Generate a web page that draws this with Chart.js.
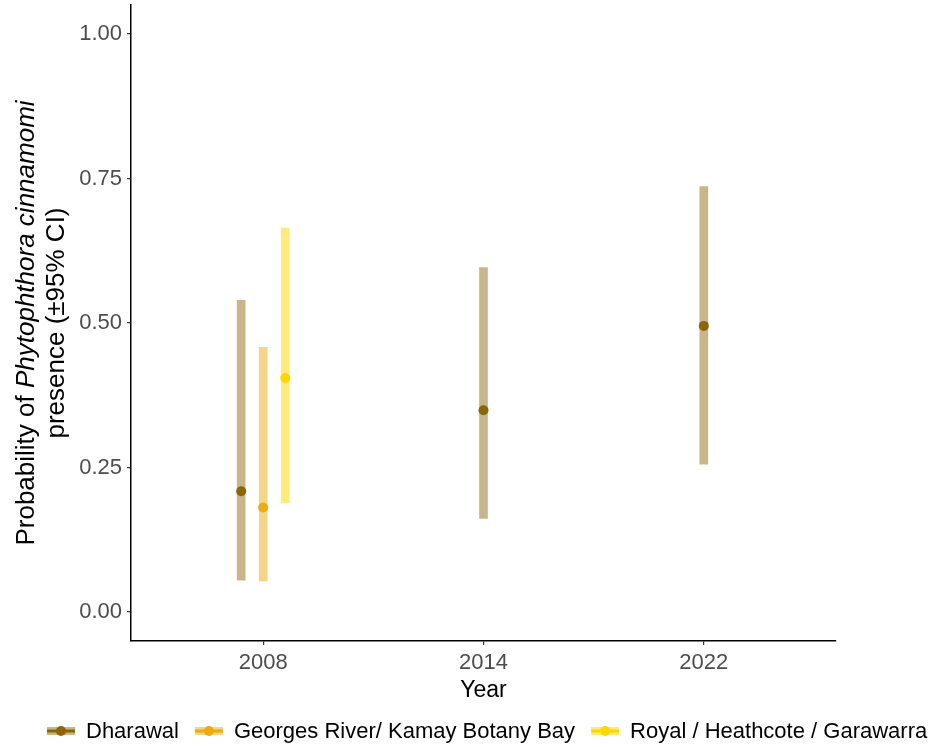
<!DOCTYPE html>
<html>
<head>
<meta charset="utf-8">
<script src="https://cdn.jsdelivr.net/npm/chart.js@4.4.1/dist/chart.umd.min.js"></script>
<style>
  html, body { margin: 0; padding: 0; background: #ffffff; }
  #wrap { width: 938px; height: 747px; position: relative; }
</style>
</head>
<body>
<div id="wrap"><canvas id="c" width="938" height="747"></canvas></div>
<script>
// ---- Data ----
const yearLabels = ['2008', '2014', '2022'];
const groupNames = ['Dharawal', 'Georges River/ Kamay Botany Bay', 'Royal / Heathcote / Garawarra'];
const groupColors = ['#8B6508', '#EEAA11', '#FFD700'];
const groupBarColors = ['rgba(139,101,8,0.48)', 'rgba(238,170,17,0.5)', 'rgba(255,215,0,0.52)'];

const dharawalYears = ['2008', '2014', '2022'];
const dharawalMean = [0.209, 0.349, 0.495];
const dharawalLow = [0.055, 0.162, 0.256];
const dharawalHigh = [0.539, 0.596, 0.736];

const georgesYears = ['2008'];
const georgesMean = [0.181];
const georgesLow = [0.054];
const georgesHigh = [0.458];

const royalYears = ['2008'];
const royalMean = [0.405];
const royalLow = [0.189];
const royalHigh = [0.664];

const yTicks = [0, 0.25, 0.5, 0.75, 1.0];
const yTitleLine1 = ['Probability of ', 'Phytophthora cinnamomi'];
const yTitleLine2 = 'presence (\u00B195% CI)';
const xTitle = 'Year';

// ---- Build (dodge like ggplot position_dodge(width = 0.3)) ----
const series = [
  { years: dharawalYears, mean: dharawalMean, lo: dharawalLow, hi: dharawalHigh },
  { years: georgesYears, mean: georgesMean, lo: georgesLow, hi: georgesHigh },
  { years: royalYears, mean: royalMean, lo: royalLow, hi: royalHigh }
];
const dodgeWidth = 0.3;
function dodgedX(gi, year) {
  const present = series.map((s, i) => s.years.includes(year) ? i : -1).filter(i => i >= 0);
  const n = present.length;
  const k = present.indexOf(gi);
  return yearLabels.indexOf(year) + (k - (n - 1) / 2) * dodgeWidth / n;
}

const datasets = [];
series.forEach((s, gi) => {
  datasets.push({
    type: 'bar',
    label: groupNames[gi] + ' CI',
    data: s.years.map((y, i) => ({ x: dodgedX(gi, y), y: [s.lo[i], s.hi[i]] })),
    backgroundColor: groupBarColors[gi],
    borderWidth: 0,
    borderSkipped: false,
    barThickness: 8,
    grouped: false,
    order: 2
  });
});
series.forEach((s, gi) => {
  datasets.push({
    type: 'scatter',
    label: groupNames[gi],
    data: s.years.map((y, i) => ({ x: dodgedX(gi, y), y: s.mean[i] })),
    backgroundColor: groupColors[gi],
    borderColor: groupColors[gi],
    pointRadius: 5,
    pointHoverRadius: 5,
    borderWidth: 0,
    order: 1
  });
});

const FONT = '"Liberation Sans", Arial, sans-serif';

const extraText = {
  id: 'extraText',
  afterDraw(chart) {
    const ctx = chart.ctx;
    const area = chart.chartArea;
    ctx.save();
    // Y title (two lines, rotated)
    const cy = (area.top + area.bottom) / 2;
    ctx.fillStyle = '#000000';
    ctx.textBaseline = 'middle';
    const fs = 26;
    const f1 = fs + 'px ' + FONT;
    const f2 = 'italic ' + fs + 'px ' + FONT;
    ctx.font = f1; const w1a = ctx.measureText(yTitleLine1[0]).width;
    ctx.font = f2; const w1b = ctx.measureText(yTitleLine1[1]).width;
    ctx.save();
    ctx.translate(27, cy);
    ctx.rotate(-Math.PI / 2);
    ctx.textAlign = 'left';
    let start = -(w1a + w1b) / 2;
    ctx.font = f1; ctx.fillText(yTitleLine1[0], start, 0);
    ctx.font = f2; ctx.fillText(yTitleLine1[1], start + w1a, 0);
    ctx.restore();
    ctx.save();
    ctx.translate(57, cy);
    ctx.rotate(-Math.PI / 2);
    ctx.textAlign = 'center';
    ctx.font = f1;
    ctx.fillText(yTitleLine2, 0, 0);
    ctx.restore();

    // X title
    ctx.textAlign = 'center';
    ctx.font = '23px ' + FONT;
    ctx.fillText(xTitle, (area.left + area.right) / 2, 691);

    // Legend
    ctx.font = '22px ' + FONT;
    let x = 47;
    const ly = 731;
    groupNames.forEach((name, gi) => {
      ctx.fillStyle = groupBarColors[gi];
      ctx.fillRect(x, ly - 4, 28, 8);
      ctx.fillStyle = groupColors[gi];
      ctx.fillRect(x, ly - 1.5, 28, 3);
      ctx.beginPath();
      ctx.arc(x + 14, ly, 5, 0, Math.PI * 2);
      ctx.fill();
      ctx.fillStyle = '#000000';
      ctx.textAlign = 'left';
      ctx.fillText(name, x + 39, ly + 1);
      x += 39 + ctx.measureText(name).width + 16;
    });
    ctx.restore();
  }
};

new Chart(document.getElementById('c'), {
  type: 'bar',
  data: { datasets },
  options: {
    responsive: false,
    animation: false,
    layout: { padding: { left: 0, right: 102, top: 5, bottom: 0 } },
    plugins: { legend: { display: false }, tooltip: { enabled: false } },
    scales: {
      x: {
        type: 'linear',
        min: -0.6,
        max: 2.6,
        offset: false,
        afterBuildTicks: (s) => { s.ticks = yearLabels.map((_, i) => ({ value: i })); },
        afterFit: (s) => { s.height = 106; s.paddingLeft = 0; s.paddingRight = 0; },
        ticks: {
          callback: (v) => yearLabels[v],
          color: '#4D4D4D',
          font: { family: FONT, size: 22 },
          padding: 5,
          maxRotation: 0,
          autoSkip: false
        },
        grid: { offset: false, drawOnChartArea: false, drawTicks: true, tickLength: 4, color: '#333333', lineWidth: 1.2 },
        border: { display: true, color: '#000000', width: 1.5 }
      },
      y: {
        type: 'linear',
        min: -0.05,
        max: 1.05,
        afterBuildTicks: (s) => { s.ticks = yTicks.map(v => ({ value: v })); },
        afterFit: (s) => { s.width = 131; s.paddingTop = 0; s.paddingBottom = 0; },
        ticks: {
          callback: (v) => v.toFixed(2),
          color: '#4D4D4D',
          font: { family: FONT, size: 22 },
          padding: 5
        },
        grid: { drawOnChartArea: false, drawTicks: true, tickLength: 4, color: '#333333', lineWidth: 1.2 },
        border: { display: true, color: '#000000', width: 1.5 }
      }
    }
  },
  plugins: [extraText]
});
</script>
</body>
</html>
